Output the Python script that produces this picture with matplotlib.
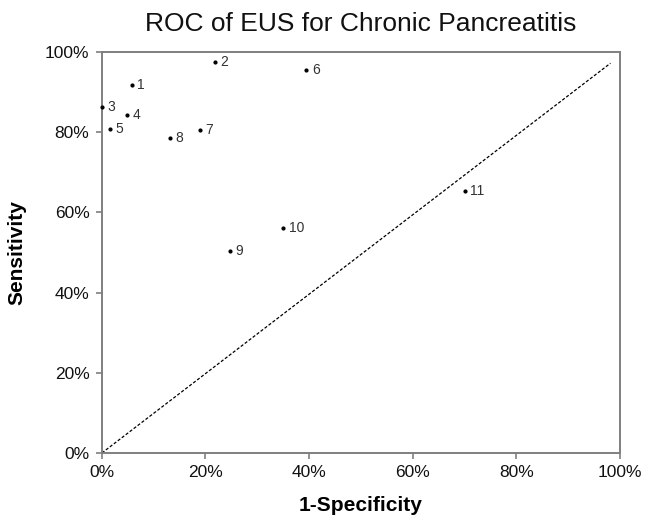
"""
ROC scatter of EUS studies for chronic pancreatitis.
"""

import matplotlib
matplotlib.use("Agg")
import matplotlib.pyplot as plt
from matplotlib.ticker import PercentFormatter

plt.rcParams["font.family"] = ["Liberation Sans", "DejaVu Sans"]

# study points: 1-specificity, sensitivity
study_ids = ["1", "2", "3", "4", "5", "6", "7", "8", "9", "10", "11"]
fpr = [0.058, 0.218, 0.0, 0.049, 0.015, 0.395, 0.189, 0.131, 0.247, 0.350, 0.701]
tpr = [0.918, 0.974, 0.862, 0.843, 0.807, 0.955, 0.805, 0.786, 0.504, 0.562, 0.654]

# chance line (drawn short of the corner, as in the original)
chance_x = [0.0, 0.982]
chance_y = [0.0, 0.972]

ticks = [0.0, 0.2, 0.4, 0.6, 0.8, 1.0]


def main():
    fig = plt.figure(figsize=(6.49, 5.18), dpi=100)
    ax = fig.add_axes([0.157, 0.1255, 0.798, 0.7741])

    ax.plot(chance_x, chance_y, color="black", lw=0.9, ls=(0, (2.5, 1.5)))
    ax.scatter(fpr, tpr, s=4, color="black", zorder=3, clip_on=False)
    for sid, x, y in zip(study_ids, fpr, tpr):
        ax.annotate(sid, (x, y), xytext=(4, 0), textcoords="offset points",
                    va="center", ha="left", fontsize=10, color="#333333")

    ax.set_xlim(0, 1)
    ax.set_ylim(0, 1)
    ax.set_xticks(ticks)
    ax.set_yticks(ticks)
    ax.xaxis.set_major_formatter(PercentFormatter(1.0, decimals=0))
    ax.yaxis.set_major_formatter(PercentFormatter(1.0, decimals=0))

    for spine in ax.spines.values():
        spine.set_color("#7f7f7f")
        spine.set_linewidth(1.4)
    ax.tick_params(direction="out", length=4, width=1.2, color="#7f7f7f",
                   labelsize=12.5, labelcolor="#111111", pad=5)

    ax.set_title("ROC of EUS for Chronic Pancreatitis", fontsize=19, pad=15,
                 color="#111111")
    ax.set_xlabel("1-Specificity", fontsize=15, fontweight="bold", labelpad=11)
    ax.set_ylabel("Sensitivity", fontsize=15, fontweight="bold", labelpad=13)

    fig.savefig("out.png", dpi=100)


if __name__ == "__main__":
    main()
